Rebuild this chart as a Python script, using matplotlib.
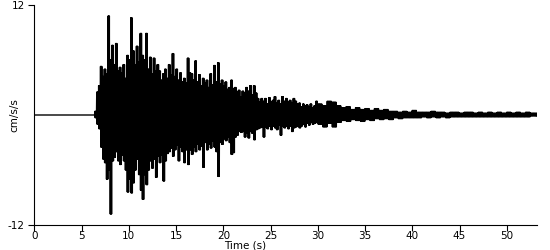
import numpy as np
import matplotlib
matplotlib.use("Agg")
import matplotlib.pyplot as plt

# accelerogram peaks (cm/s/s)
# strong motion part: upper and lower peak in every 0.2 s window from 6.2 s
strong_start = 6.2
strong_step = 0.2
strong_up = [
    0.0, 0.4, 2.5, 3.2, 5.3, 4.2, 5.0, 4.5, 10.8, 6.0,
    7.6, 5.5, 7.8, 4.8, 5.2, 4.6, 5.5, 4.0, 6.5, 6.0,
    10.6, 7.0, 5.5, 7.5, 5.8, 8.9, 6.5, 6.0, 8.9, 5.0,
    6.3, 4.5, 6.2, 4.8, 5.5, 4.8, 3.8, 4.5, 5.0, 4.0,
    5.5, 4.4, 6.7, 4.2, 5.0, 3.8, 4.6, 3.6, 4.0, 3.5,
    6.2, 4.6, 4.5, 3.8, 5.9, 3.6, 4.4, 3.2, 4.0, 3.5,
    3.8, 3.0, 4.5, 3.3, 5.4, 3.6, 5.7, 3.4, 3.8, 3.2,
    3.6, 2.8, 3.0, 3.8, 2.9, 3.0, 2.5, 2.7, 2.0, 2.6,
    2.4, 3.0, 2.6, 3.2, 2.2, 3.2, 2.4, 1.8, 1.4, 1.8,
    1.5, 1.8, 1.2, 1.9, 1.4, 1.6, 2.0, 1.3, 1.6, 1.2,
    2.0, 1.5, 1.8, 1.4, 1.6, 1.3, 1.8, 1.5, 1.2, 1.3,
    0.9, 1.2, 1.0, 1.1, 0.9, 1.2, 0.8, 1.0, 1.5,
]
strong_lo = [
    0.0, -0.3, -1.0, -1.5, -3.5, -4.8, -5.2, -7.0, -6.0, -10.8,
    -5.0, -4.6, -4.0, -5.0, -5.4, -4.4, -5.0, -6.0, -8.4, -7.0,
    -8.5, -7.4, -6.0, -4.8, -6.5, -8.2, -9.2, -6.5, -7.6, -6.0,
    -5.0, -5.8, -4.8, -6.8, -4.5, -5.2, -4.4, -7.2, -5.0, -4.2,
    -4.0, -3.6, -4.5, -3.8, -3.3, -5.0, -3.5, -4.0, -5.2, -3.8,
    -5.4, -3.8, -4.3, -3.5, -4.0, -3.2, -3.8, -3.4, -5.7, -3.0,
    -3.8, -3.2, -3.6, -2.8, -3.5, -4.0, -6.7, -3.0, -3.2, -2.6,
    -2.8, -2.4, -3.0, -4.3, -4.1, -2.4, -2.2, -1.8, -1.9, -1.8,
    -2.4, -2.0, -2.5, -1.8, -2.0, -2.7, -1.6, -1.5, -1.4, -1.3,
    -2.4, -1.3, -1.5, -1.2, -1.6, -1.2, -1.4, -1.6, -1.1, -2.2,
    -1.2, -1.4, -1.2, -1.5, -1.2, -1.8, -1.4, -1.3, -1.2, -1.4,
    -1.2, -1.0, -1.3, -0.9, -1.1, -0.8, -1.0, -0.9, -0.8,
]

# coda: upper and lower peak in every 0.5 s window from 30 s
coda_start = 30.0
coda_step = 0.5
coda_up = [
    1.2, 1.0, 1.5, 1.4, 1.0, 0.8, 0.9, 0.6, 0.8, 0.6,
    0.7, 0.5, 0.7, 0.5, 0.6, 0.4, 0.4, 0.3, 0.4, 0.3,
    0.5, 0.3, 0.3, 0.3, 0.4, 0.3, 0.3, 0.2, 0.3, 0.3,
    0.2, 0.3, 0.3, 0.2, 0.3, 0.2, 0.3, 0.2, 0.3, 0.2,
    0.3, 0.2, 0.3, 0.2, 0.3, 0.2, 0.2,
]
coda_lo = [
    -1.0, -1.3, -0.9, -1.3, -0.8, -0.6, -0.7, -0.5, -0.6, -0.7,
    -0.5, -0.6, -0.4, -0.5, -0.4, -0.5, -0.3, -0.4, -0.3, -0.3,
    -0.3, -0.3, -0.2, -0.3, -0.2, -0.3, -0.2, -0.3, -0.2, -0.2,
    -0.2, -0.2, -0.2, -0.2, -0.2, -0.2, -0.2, -0.2, -0.2, -0.2,
    -0.2, -0.2, -0.2, -0.2, -0.2, -0.1, -0.1,
]


def window_trace(t0, step, up, lo, swings):
    # the trace swings between the window's peaks a few times per window
    n = len(up)
    t = t0 + step * np.arange(2 * swings * n) / (2 * swings)
    y = np.column_stack([np.repeat(up, swings), np.repeat(lo, swings)]).ravel()
    return t, y


def main():
    t1, y1 = window_trace(strong_start, strong_step, strong_up, strong_lo, 3)
    t2, y2 = window_trace(coda_start, coda_step, coda_up, coda_lo, 6)
    t = np.concatenate([[0.0], t1, t2])
    y = np.concatenate([[0.0], y1, y2])

    fig = plt.figure(figsize=(5.5, 2.5), dpi=100)
    ax = fig.add_axes([34.4 / 550, 25 / 250, 502.6 / 550, 220 / 250])
    ax.plot(t, y, color="black", lw=1.0)

    ax.set_xlim(0, 53.2)
    ax.set_ylim(-12, 12)
    ax.spines["top"].set_visible(False)
    ax.spines["right"].set_visible(False)
    ax.set_xticks(range(0, 55, 5))
    ax.set_yticks([-12, 12])
    ax.set_yticklabels(["-12", "12"])
    ax.tick_params(axis="x", length=4, pad=0.5, labelsize=7.5)
    ax.tick_params(axis="y", length=4, pad=3, labelsize=7.5)

    ax.set_xlabel("Time (s)", fontsize=7.5, va="top")
    ax.xaxis.set_label_coords(0.42, -0.072)
    ax.set_ylabel("cm/s/s", fontsize=7.5)
    ax.yaxis.set_label_coords(-0.03, 0.5)

    fig.savefig("out.png", dpi=100)


if __name__ == "__main__":
    main()
